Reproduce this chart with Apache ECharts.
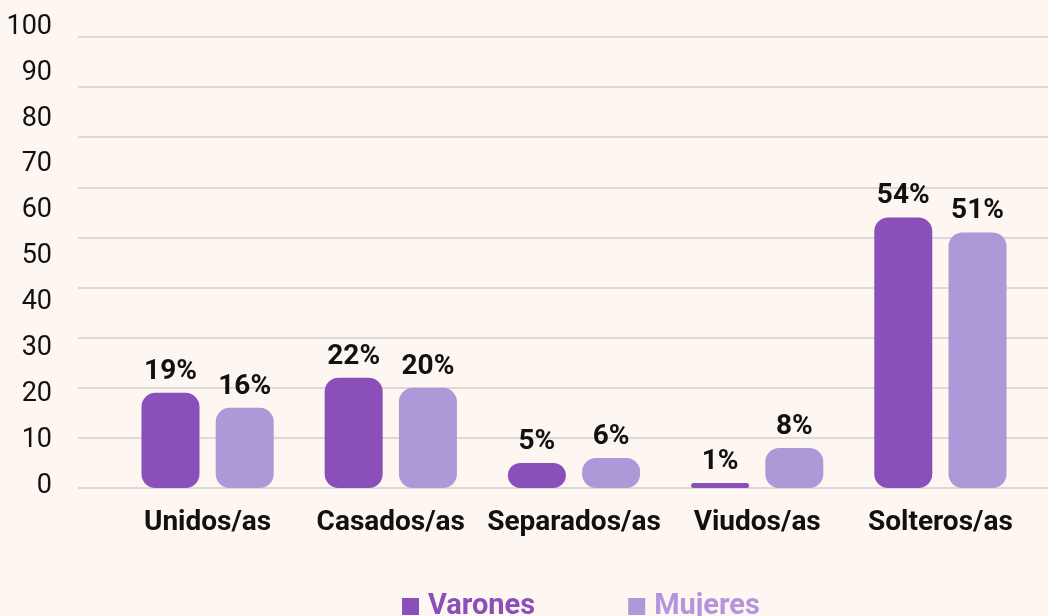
<!DOCTYPE html>
<html>
<head>
<meta charset="utf-8">
<script src="https://cdn.jsdelivr.net/npm/echarts@6/dist/echarts.min.js"></script>
<style>
  html, body { margin: 0; padding: 0; background: #fdf6f1; }
  #main { width: 1048px; height: 616px; }
</style>
</head>
<body>
<div id="main"></div>
<script>
var categories = ['Unidos/as', 'Casados/as', 'Separados/as', 'Viudos/as', 'Solteros/as'];
var varones = [19, 22, 5, 1, 54];
var mujeres = [16, 20, 6, 8, 51];
var yTickLabels = ['0', '10', '20', '30', '40', '50', '60', '70', '80', '90', '100'];

var colVarones = '#8a4fb9';
var colMujeres = '#ad98d8';
var font = 'Roboto, "Noto Sans", sans-serif';

window.onload = function () {
	var chart = echarts.init(document.getElementById('main'));
	var barLabel = {
		show: true,
		position: 'top',
		distance: 7,
		formatter: '{c}%',
		color: '#111',
		fontSize: 28,
		fontWeight: 'bold',
		fontFamily: font
	};
	var options = {
		backgroundColor: '#fdf6f1',
		animation: false,
		textStyle: { fontFamily: font },
		grid: [
			// barras
			{ left: 116, right: 16, top: 37, bottom: 128 },
			// lineas de fondo
			{ left: 78, right: 0, top: 37, bottom: 128 },
			// etiquetas del eje
			{ left: 60, right: 0, top: 27, bottom: 130 }
		],
		xAxis: [
			{
				gridIndex: 0,
				type: 'category',
				data: categories,
				axisLine: { show: false },
				axisTick: { show: false },
				axisLabel: {
					color: '#111',
					fontSize: 28,
					fontWeight: 'bold',
					fontFamily: font,
					margin: 21,
					interval: 0
				}
			},
			{ gridIndex: 1, type: 'value', show: false },
			{ gridIndex: 2, type: 'value', show: false }
		],
		yAxis: [
			{
				gridIndex: 0,
				type: 'value',
				min: 0,
				max: 90,
				interval: 10,
				show: false
			},
			{
				gridIndex: 1,
				type: 'value',
				min: 0,
				max: 90,
				interval: 10,
				axisLine: { show: false },
				axisTick: { show: false },
				axisLabel: { show: false },
				splitLine: { lineStyle: { color: '#dadada', width: 2 } }
			},
			{
				gridIndex: 2,
				type: 'category',
				data: yTickLabels,
				boundaryGap: false,
				axisLine: { show: false },
				axisTick: { show: false },
				splitLine: { show: false },
				axisLabel: {
					color: '#111',
					fontSize: 27,
					fontFamily: font,
					margin: 8,
					interval: 0
				}
			}
		],
		legend: {
			left: 397,
			top: 587,
			icon: 'rect',
			itemWidth: 17,
			itemHeight: 17,
			itemGap: 93,
			textStyle: { fontSize: 29, fontWeight: 'bold', fontFamily: font, padding: [0, 0, 0, 4] },
			data: [
				{ name: 'Varones', textStyle: { color: colVarones } },
				{ name: 'Mujeres', textStyle: { color: '#b394dd' } }
			]
		},
		series: [
			{
				name: 'Varones',
				type: 'bar',
				xAxisIndex: 0,
				yAxisIndex: 0,
				barWidth: 58,
				barGap: '28%',
				data: varones,
				itemStyle: { color: colVarones, borderRadius: 14 },
				label: barLabel
			},
			{
				name: 'Mujeres',
				type: 'bar',
				xAxisIndex: 0,
				yAxisIndex: 0,
				barWidth: 58,
				barGap: '28%',
				data: mujeres,
				itemStyle: { color: colMujeres, borderRadius: 14 },
				label: barLabel
			}
		]
	};
	chart.setOption(options);
};
</script>
</body>
</html>
